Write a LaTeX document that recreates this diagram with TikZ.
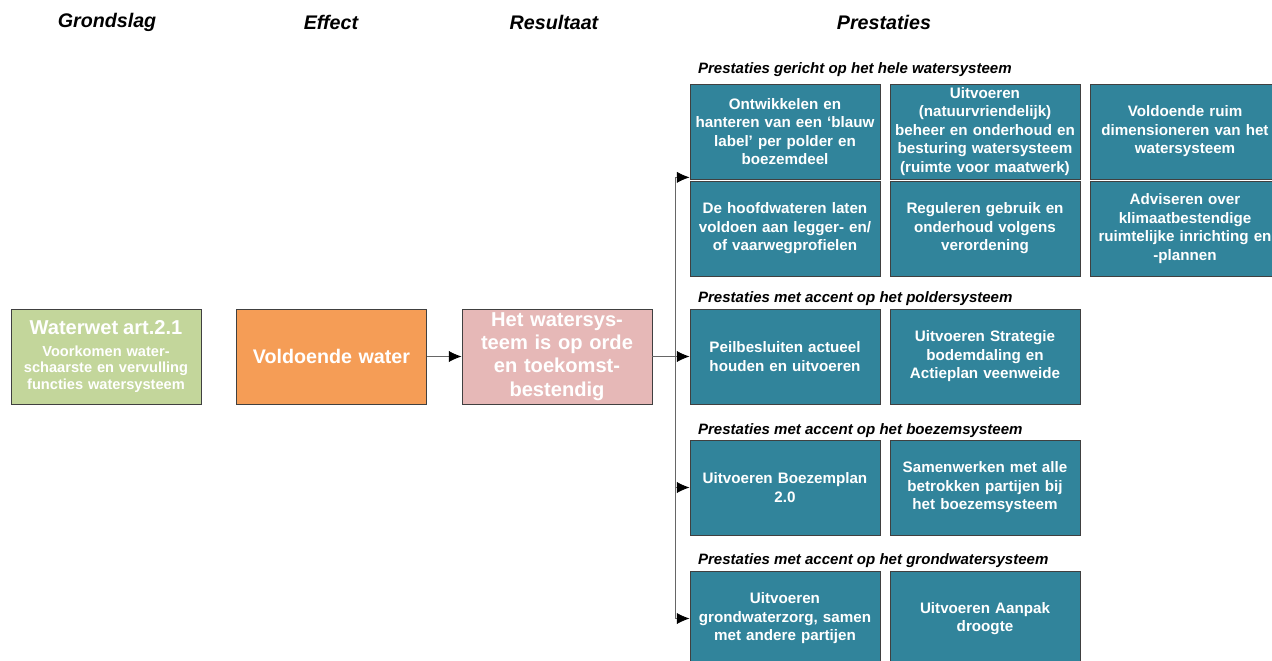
\documentclass[tikz,border=0pt]{standalone}
\usepackage{fontspec}
\setmainfont{Liberation Sans}
\usetikzlibrary{arrows.meta}

\definecolor{grondslaggroen}{HTML}{C3D69B}
\definecolor{effectoranje}{HTML}{F59D56}
\definecolor{resultaatroze}{HTML}{E6B8B7}
\definecolor{prestatieblauw}{HTML}{31849B}
\definecolor{randgrijs}{HTML}{404040}

\begin{document}
\begin{tikzpicture}[x=0.025cm, y=-0.025cm, >={Latex[length=3.2mm, width=2.8mm, color=black]},
	blok/.style={draw=randgrijs, line width=0.5pt, text=white, align=center,
		font=\bfseries\fontsize{10.8}{13.2}\selectfont,
		minimum width=4.75cm, minimum height=2.375cm, text width=4.6cm, inner sep=1pt},
	prestatie/.style={blok, fill=prestatieblauw},
	kop/.style={font=\bfseries\itshape\fontsize{14}{17}\selectfont},
	sectie/.style={anchor=west, inner sep=2pt, font=\bfseries\itshape\fontsize{10.7}{13}\selectfont},
	lijn/.style={draw=randgrijs!80, line width=0.6pt}]
	\useasboundingbox (0,0) rectangle (1272,660);

	% koppen
	\node[kop] (hgrond) at (107,22) {Grondslag};
	\node[kop] (heffect) at (331,22) {Effect};
	\node[kop] (hresult) at (554,22) {Resultaat};
	\node[kop] (hprest) at (884,22) {Prestaties};

	% keten
	\node[blok, fill=grondslaggroen, font=\bfseries\fontsize{10.4}{11.9}\selectfont] (grond) at (106,356.5)
		{{\fontsize{14.3}{16}\selectfont Waterwet art.2.1}\\[0.12cm]Voorkomen water-\\schaarste en vervulling\\functies watersysteem};
	\node[blok, fill=effectoranje, font=\bfseries\fontsize{14}{16}\selectfont] (effect) at (331.5,356.5) {Voldoende water};
	\node[blok, fill=resultaatroze, font=\bfseries\fontsize{14.3}{16.6}\selectfont] (result) at (557,356.5)
		{Het watersys-\\teem is op orde\\en toekomst-\\bestendig};

	% prestaties hele watersysteem
	\node[sectie] (s1) at (695,70) {Prestaties gericht op het hele watersysteem};
	\node[prestatie] (a1) at (785,131.5) {Ontwikkelen en\\hanteren van een ‘blauw\\label’ per polder en\\boezemdeel};
	\node[prestatie] (a2) at (985,131.5) {Uitvoeren\\(natuurvriendelijk)\\beheer en onderhoud en\\besturing watersysteem\\(ruimte voor maatwerk)};
	\node[prestatie] (a3) at (1185,131.5) {Voldoende ruim\\dimensioneren van het\\watersysteem};
	\node[prestatie] (a4) at (785,228.5) {De hoofdwateren laten\\voldoen aan legger- en/\\of vaarwegprofielen};
	\node[prestatie] (a5) at (985,228.5) {Reguleren gebruik en\\onderhoud volgens\\verordening};
	\node[prestatie] (a6) at (1185,228.5) {Adviseren over\\klimaatbestendige\\ruimtelijke inrichting en\\-plannen};

	% poldersysteem
	\node[sectie] (s2) at (695,299) {Prestaties met accent op het poldersysteem};
	\node[prestatie] (b1) at (785,356.5) {Peilbesluiten actueel\\houden en uitvoeren};
	\node[prestatie] (b2) at (985,356.5) {Uitvoeren Strategie\\bodemdaling en\\Actieplan veenweide};

	% boezemsysteem
	\node[sectie] (s3) at (695,431) {Prestaties met accent op het boezemsysteem};
	\node[prestatie] (c1) at (785,487.5) {Uitvoeren Boezemplan\\2.0};
	\node[prestatie] (c2) at (985,487.5) {Samenwerken met alle\\betrokken partijen bij\\het boezemsysteem};

	% grondwatersysteem
	\node[sectie] (s4) at (695,561) {Prestaties met accent op het grondwatersysteem};
	\node[prestatie] (d1) at (785,618.5) {Uitvoeren\\grondwaterzorg, samen\\met andere partijen};
	\node[prestatie] (d2) at (985,618.5) {Uitvoeren Aanpak\\droogte};

	% verbindingen
	\coordinate (splits) at (675,356.5);
	\draw[lijn, ->] (effect) -- (result);
	\draw[lijn] (result) -- (splits);
	\draw[lijn, ->] (splits) |- ([yshift=0.05cm]a1.south west);
	\draw[lijn, ->] (splits) -- (b1);
	\draw[lijn, ->] (splits) |- (c1);
	\draw[lijn, ->] (splits) |- (d1);
\end{tikzpicture}
\end{document}
